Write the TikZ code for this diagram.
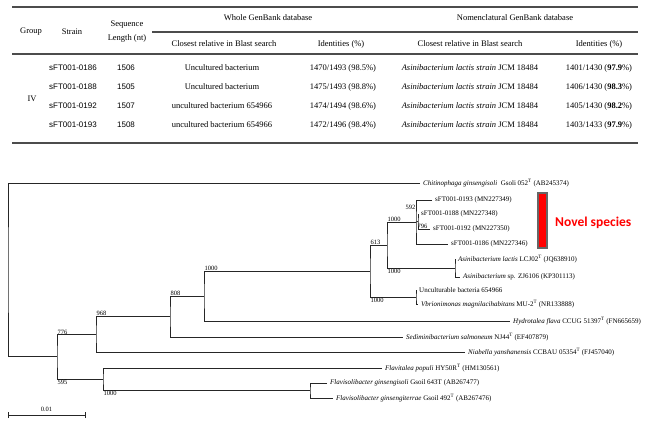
\documentclass[tikz,border=0pt]{standalone}
\usepackage{fontspec}
\setmainfont{Liberation Serif}
\newfontfamily\strainfont{Liberation Sans}
\newfontfamily\novelfont{Carlito}
\usetikzlibrary{positioning,calc}

\tikzset{
	hd/.style={font=\fontsize{8.5}{14}\selectfont, inner sep=0pt},
	cell/.style={font=\fontsize{8.5}{10}\selectfont, inner sep=0pt},
	scell/.style={font=\strainfont\fontsize{8}{10}\selectfont, inner sep=0pt},
	rule/.style={line width=1.3pt, draw=black!70},
	branch/.style={line width=0.8pt, draw=black!85},
	leaf/.style={anchor=west, font=\fontsize{7}{8}\selectfont, inner xsep=3pt, inner ysep=0pt},
	boot/.style={font=\fontsize{6.5}{7}\selectfont, inner sep=0.5pt},
}

\begin{document}
\begin{tikzpicture}[x=1pt, y=-1pt]
				\useasboundingbox (0,0) rectangle (655,422);

				\draw[rule] (12,7) -- (638,7);
				\draw[rule] (152,32) -- (638,32);
				\draw[rule] (12,54) -- (638,54);
				\draw[rule] (12,143) -- (638,143);

				\node[hd] (group) at (31,32) {Group};
				\node[hd] (strain) at (72,32) {Strain};
				\node[hd, align=center] (seqlen) at (127,32) {Sequence\\Length (nt)};
				\node[hd] (whole) at (268,18) {Whole GenBank database};
				\node[hd] (nomen) at (515,18) {Nomenclatural GenBank database};
				\node[hd] (closeW) at (224,44) {Closest relative in Blast search};
				\node[hd] (identW) at (341,44) {Identities (\%)};
				\node[hd] (closeN) at (470,44) {Closest relative in Blast search};
				\node[hd] (identN) at (599,44) {Identities (\%)};
				\node[hd] (grpIV) at (32,99) {IV};

				\foreach \y/\st/\len/\cl/\iw/\inm in {
						68/0186/1506/{Uncultured bacterium}/{1470\slash1493 (98.5\%)}/{1401\slash1430 (\textbf{97.9}\%)},
						87/0188/1505/{Uncultured bacterium}/{1475\slash1493 (98.8\%)}/{1406\slash1430 (\textbf{98.3}\%)},
						106/0192/1507/{uncultured bacterium 654966}/{1474\slash1494 (98.6\%)}/{1405\slash1430 (\textbf{98.2}\%)},
						125/0193/1508/{uncultured bacterium 654966}/{1472\slash1496 (98.4\%)}/{1403\slash1433 (\textbf{97.9}\%)}}{
						\node[scell] (st\st) at (73,\y) {sFT001-\st};
						\node[scell] (len\st) at (126,\y) {\len};
						\node[cell] (cw\st) at (222,\y) {\cl};
						\node[cell] (iw\st) at (343,\y) {\iw};
						\node[cell] (cn\st) at (470,\y) {\textit{Asinibacterium lactis strain} JCM 18484};
						\node[cell] (in\st) at (599,\y) {\inm};
					}

				\coordinate (root) at (8,270);
				\coordinate (n776) at (57,356.5);
				\coordinate (n968) at (96,334);
				\coordinate (n808) at (170,316.5);
				\coordinate (n1000d) at (204,296);
				\coordinate (n613) at (370,271);
				\coordinate (nAsi) at (387,245);
				\coordinate (n592) at (416,222);
				\coordinate (n796) at (418,221.5);
				\coordinate (nLac) at (455,268);
				\coordinate (nUnc) at (416,297);
				\coordinate (nFla) at (103,379);
				\coordinate (nGin) at (310,390.5);

				\node[leaf] (chit) at (420,183) {\textit{Chitinophaga ginsengisoli}~ Gsoli 052\textsuperscript{T} (AB245374)};
				\node[leaf] (s0193) at (432,200) {sFT001-0193 (MN227349)};
				\node[leaf] (s0188) at (418,214) {sFT001-0188 (MN227348)};
				\node[leaf] (s0192) at (430,229) {sFT001-0192 (MN227350)};
				\node[leaf] (s0186) at (448,244) {sFT001-0186 (MN227346)};
				\node[leaf] (lactis) at (455,259) {\textit{Asinibacterium lactis} LCJ02\textsuperscript{T} (JQ638910)};
				\node[leaf] (zj) at (460,277) {\textit{Asinibacterium} sp. ZJ6106 (KP301113)};
				\node[leaf] (uncult) at (416,290) {Unculturable bacteria 654966};
				\node[leaf] (vbrio) at (418,304) {\textit{Vbrionimonas magnilacihabitans} MU-2\textsuperscript{T} (NR133888)};
				\node[leaf] (hydro) at (510,321) {\textit{Hydrotalea flava} CCUG 51397\textsuperscript{T} (FN665659)};
				\node[leaf] (sedi) at (403,337) {\textit{Sediminibacterium salmoneum} NJ44\textsuperscript{T} (EF407879)};
				\node[leaf] (niab) at (465,352) {\textit{Niabella yanshanensis} CCBAU 05354\textsuperscript{T} (FJ457040)};
				\node[leaf] (populi) at (382,368) {\textit{Flavitalea populi} HY50R\textsuperscript{T} (HM130561)};
				\node[leaf] (fgsoli) at (327,383) {\textit{Flavisolibacter ginsengisoli} Gsoil 643T (AB267477)};
				\node[leaf] (fgterr) at (333,398) {\textit{Flavisolibacter ginsengiterrae} Gsoil 492\textsuperscript{T} (AB267476)};

				\draw[branch] (chit.west) -| (root) |- (n776);
				\draw[branch] (n968) -| (n776) |- (nFla);
				\draw[branch] (n808) -| (n968) |- (niab.west);
				\draw[branch] (n1000d) -| (n808) |- (sedi.west);
				\draw[branch] (n613) -| (n1000d) |- (hydro.west);
				\draw[branch] (nAsi) -| (n613) |- (nUnc);
				\draw[branch] (n592) -| (nAsi) |- (nLac);
				\draw[branch] (s0193.west) -| (n592) |- (s0186.west);
				\draw[branch] (n592) -- (n796);
				\draw[branch] (s0188.west) -| (n796) |- (s0192.west);
				\draw[branch] (lactis.west) -| (nLac) |- (zj.west);
				\draw[branch] (uncult.west) -| (nUnc) |- (vbrio.west);
				\draw[branch] (populi.west) -| (nFla) |- (nGin);
				\draw[branch] (fgsoli.west) -| (nGin) |- (fgterr.west);

				\node[boot, anchor=south west] (b776) at (57,335) {776};
				\node[boot, anchor=north west] (b595) at (57,379) {595};
				\node[boot, anchor=south west] (b968) at (96,316.5) {968};
				\node[boot, anchor=south west] (b808) at (170,296) {808};
				\node[boot, anchor=south west] (b1000d) at (204,271) {1000};
				\node[boot, anchor=south west] (b613) at (370,245) {613};
				\node[boot, anchor=south west] (b1000a) at (387,222) {1000};
				\node[boot, anchor=east] (b592) at (416,207) {592};
				\node[boot, anchor=south west] (b796) at (417,229) {796};
				\node[boot, anchor=north west] (b1000l) at (387,268) {1000};
				\node[boot, anchor=north west] (b1000u) at (370,297) {1000};
				\node[boot, anchor=north west] (b1000f) at (103,390.5) {1000};

				\coordinate (barL) at (8,415);
				\coordinate (barR) at (85,415);
				\draw[branch] (barL) -- (barR);
				\draw[branch] ([yshift=-3pt]barL) -- ([yshift=3pt]barL);
				\draw[branch] ([yshift=-3pt]barR) -- ([yshift=3pt]barR);
				\node[boot, above=3pt] (scale) at ($(barL)!0.5!(barR)$) {0.01};

				\filldraw[fill=red, draw=black!60, line width=1.2pt] (538,193) rectangle (547,248);
				\node[anchor=west, inner sep=0pt, text=red, font=\novelfont\bfseries\fontsize{13.5}{15}\selectfont] (novel) at (555,223) {Novel species};
			\end{tikzpicture}
\end{document}
